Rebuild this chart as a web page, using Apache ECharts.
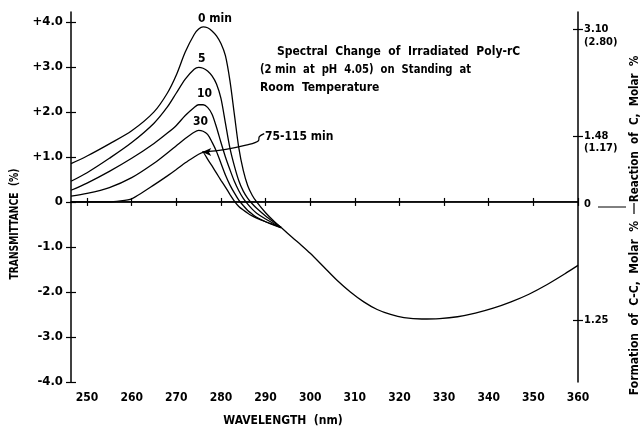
<!DOCTYPE html>
<html>
<head>
<meta charset="utf-8">
<script src="https://cdn.jsdelivr.net/npm/echarts@6/dist/echarts.min.js"></script>
<style>
  html, body { margin: 0; padding: 0; background: #fff; }
  #chart { width: 641px; height: 431px; }
</style>
</head>
<body>
<div id="chart"></div>
<script>
// wavelength grid (nm) for the separate curves, before they merge
const wavelength = [246.4, 250, 255, 260, 265, 268, 270, 272, 274, 275, 276, 277, 278, 279, 280, 281, 282, 283, 284, 285, 286, 287, 288, 290, 292, 293.5];
const min0 = [0.85, 1.02, 1.29, 1.58, 2.0, 2.42, 2.82, 3.33, 3.72, 3.84, 3.89, 3.87, 3.8, 3.69, 3.52, 3.25, 2.7, 1.95, 1.2, 0.7, 0.36, 0.15, 0.0, -0.24, -0.44, -0.57];
const min5 = [0.46, 0.65, 0.97, 1.32, 1.75, 2.11, 2.42, 2.73, 2.95, 2.99, 2.97, 2.91, 2.8, 2.62, 2.3, 1.75, 1.2, 0.8, 0.47, 0.24, 0.08, -0.04, -0.14, -0.31, -0.46, -0.57];
const min10 = [0.26, 0.42, 0.68, 0.97, 1.3, 1.53, 1.7, 1.92, 2.1, 2.16, 2.16, 2.1, 1.95, 1.66, 1.32, 1.0, 0.72, 0.46, 0.25, 0.08, -0.05, -0.16, -0.25, -0.38, -0.49, -0.57];
const min30 = [0.13, 0.19, 0.32, 0.54, 0.86, 1.09, 1.25, 1.41, 1.55, 1.59, 1.57, 1.5, 1.33, 1.12, 0.86, 0.6, 0.38, 0.2, 0.04, -0.08, -0.19, -0.27, -0.34, -0.44, -0.52, -0.57];
const min75to115 = [0, 0, 0, 0.07, 0.38, 0.58, 0.72, 0.87, 1.0, 1.06, 1.1, 0.95, 0.8, 0.64, 0.48, 0.33, 0.17, 0.02, -0.1, -0.18, -0.25, -0.31, -0.36, -0.44, -0.51, -0.57];

// common curve after all spectra merge
const tailWavelength = [293.5, 296, 298, 300, 303, 306, 309, 312, 315, 318, 321, 325, 329, 333, 337, 341, 345, 349, 353, 357, 360];
const tailValues = [-0.57, -0.79, -0.96, -1.14, -1.44, -1.74, -2.0, -2.22, -2.39, -2.5, -2.57, -2.6, -2.59, -2.55, -2.47, -2.36, -2.22, -2.05, -1.84, -1.6, -1.41];

// pointer from the "75-115 min" label to its peak
const arrowWavelength = [289.7, 288.6, 288.4, 285.6, 281.1, 275.8];
const arrowValues = [1.52, 1.45, 1.36, 1.26, 1.17, 1.11];

const xTicks = [250, 260, 270, 280, 290, 300, 310, 320, 330, 340, 350, 360];
const yTicks = [-4, -3, -2, -1, 0, 1, 2, 3, 4];
const yTickLabels = ['-4.0', '-3.0', '-2.0', '-1.0', '0', '+1.0', '+2.0', '+3.0', '+4.0'];
const rightTicks = [3.84, 1.46, -2.62];
const rightLabelValues = [3.84, 3.55, 1.46, 1.2, -0.05, -2.62];
const rightLabelTexts = ['3.10', '(2.80)', '1.48', '(1.17)', '0', '1.25'];

const xMin = 246.4, xMax = 360, yMin = -4, yMax = 4.22;
const font = "'Liberation Sans Narrow', 'DejaVu Sans Condensed', 'Liberation Sans', sans-serif";

const pairs = (xs, ys) => xs.map((x, i) => [x, ys[i]]);

const lineBase = {
  type: 'line',
  symbol: 'none',
  smooth: 0.3,
  lineStyle: { color: '#000', width: 1.3 },
  xAxisIndex: 0,
  yAxisIndex: 0,
  z: 3
};

const txt = (x, y, text, size, extra) => Object.assign({
  type: 'text', x: x, y: y,
  style: { text: text, fontSize: size, fontWeight: 'bold', fontFamily: font, fill: '#000', align: 'left', verticalAlign: 'middle' }
}, extra || {});

const chart = echarts.init(document.getElementById('chart'));

const arrowData = pairs(arrowWavelength, arrowValues).map((p, i, arr) =>
  i === arr.length - 1
    ? { value: p, symbol: 'arrow', symbolSize: [6, 9], symbolRotate: 90 }
    : { value: p, symbol: 'none' });

const option = {
  backgroundColor: '#fff',
  animation: false,
  grid: { left: 71, right: 63, top: 12, bottom: 49, containLabel: false },
  xAxis: [
    {
      type: 'value', min: xMin, max: xMax, position: 'bottom',
      axisLine: { show: true, lineStyle: { color: '#000', width: 1.5 } },
      axisTick: { show: true, inside: false, length: 4, customValues: xTicks, lineStyle: { color: '#000', width: 1.2 } },
      axisLabel: { customValues: xTicks, margin: 10, color: '#000', fontSize: 12, fontWeight: 'bold', fontFamily: font },
      splitLine: { show: false }
    },
    {
      type: 'value', min: xMin, max: xMax, position: 'bottom',
      axisLine: { show: false },
      axisTick: { show: true, inside: true, length: 4, customValues: xTicks, lineStyle: { color: '#000', width: 1.2 } },
      axisLabel: { show: false },
      splitLine: { show: false }
    }
  ],
  yAxis: [
    {
      type: 'value', min: yMin, max: yMax, position: 'left',
      axisLine: { show: true, lineStyle: { color: '#000', width: 1.5 } },
      axisTick: { show: true, inside: false, length: 5, customValues: yTicks, lineStyle: { color: '#000', width: 1.2 } },
      axisLabel: {
        customValues: yTicks, margin: 8, color: '#000', fontSize: 13, fontWeight: 'bold', fontFamily: font,
        formatter: v => yTickLabels[yTicks.indexOf(Math.round(v))]
      },
      splitLine: { show: false }
    },
    {
      type: 'value', min: yMin, max: yMax, position: 'left',
      axisLine: { show: false },
      axisTick: { show: true, inside: true, length: 5, customValues: yTicks, lineStyle: { color: '#000', width: 1.2 } },
      axisLabel: { show: false },
      splitLine: { show: false }
    },
    {
      type: 'value', min: yMin, max: yMax, position: 'right',
      axisLine: { show: true, lineStyle: { color: '#000', width: 1.5 } },
      axisTick: { show: true, inside: false, length: 5, customValues: rightTicks, lineStyle: { color: '#000', width: 1.2 } },
      axisLabel: {
        customValues: rightLabelValues, margin: 6, color: '#000', fontSize: 11, fontWeight: 'bold', fontFamily: font,
        formatter: v => rightLabelTexts[rightLabelValues.findIndex(a => Math.abs(a - v) < 1e-6)] || ''
      },
      splitLine: { show: false }
    },
    {
      type: 'value', min: yMin, max: yMax, position: 'right',
      axisLine: { show: false },
      axisTick: { show: true, inside: true, length: 5, customValues: rightTicks, lineStyle: { color: '#000', width: 1.2 } },
      axisLabel: { show: false },
      splitLine: { show: false }
    }
  ],
  series: [
    { ...lineBase, name: 'baseline', smooth: false, data: [[xMin, 0], [xMax, 0]] },
    { ...lineBase, name: '0 min', data: pairs(wavelength, min0) },
    { ...lineBase, name: '5 min', data: pairs(wavelength, min5) },
    { ...lineBase, name: '10 min', data: pairs(wavelength, min10) },
    { ...lineBase, name: '30 min', data: pairs(wavelength, min30) },
    { ...lineBase, name: '75-115 min', smooth: 0.15, data: pairs(wavelength, min75to115) },
    { ...lineBase, name: 'common', data: pairs(tailWavelength, tailValues) },
    {
      type: 'line', name: 'pointer', smooth: 0.4, showSymbol: true,
      itemStyle: { color: '#000' },
      lineStyle: { color: '#000', width: 1.3 },
      data: arrowData, z: 4
    }
  ],
  graphic: [
    txt(198, 19, '0 min', 12),
    txt(198, 59, '5', 12),
    txt(197, 94, '10', 12),
    txt(193, 122, '30', 12),
    txt(265, 137, '75-115 min', 12),
    txt(277, 52, 'Spectral  Change  of  Irradiated  Poly-rC', 12),
    txt(260, 70, '(2 min  at  pH  4.05)  on  Standing  at', 12, { scaleX: 0.93 }),
    txt(260, 88, 'Room  Temperature', 12),
    { type: 'text', x: 15, y: 224, rotation: Math.PI / 2, scaleX: 0.85,
      style: { text: 'TRANSMITTANCE  (%)', fontSize: 12, fontWeight: 'bold', fontFamily: font, fill: '#000', align: 'center', verticalAlign: 'middle' } },
    { type: 'text', x: 283, y: 421,
      style: { text: 'WAVELENGTH  (nm)', fontSize: 12, fontWeight: 'bold', fontFamily: font, fill: '#000', align: 'center', verticalAlign: 'middle' } },
    { type: 'text', x: 635, y: 129, rotation: Math.PI / 2, scaleX: 0.96,
      style: { text: 'Reaction  of  C,  Molar  %', fontSize: 12, fontWeight: 'bold', fontFamily: font, fill: '#000', align: 'center', verticalAlign: 'middle' } },
    { type: 'text', x: 635, y: 308, rotation: Math.PI / 2,
      style: { text: 'Formation  of  C-C,  Molar  %', fontSize: 12, fontWeight: 'bold', fontFamily: font, fill: '#000', align: 'center', verticalAlign: 'middle' } },
    { type: 'line', shape: { x1: 598, y1: 207, x2: 626, y2: 207 }, style: { stroke: '#000', lineWidth: 1 } },
    { type: 'line', shape: { x1: 634, y1: 203, x2: 634, y2: 214 }, style: { stroke: '#000', lineWidth: 1.2 } }
  ]
};

chart.setOption(option);
</script>
</body>
</html>
